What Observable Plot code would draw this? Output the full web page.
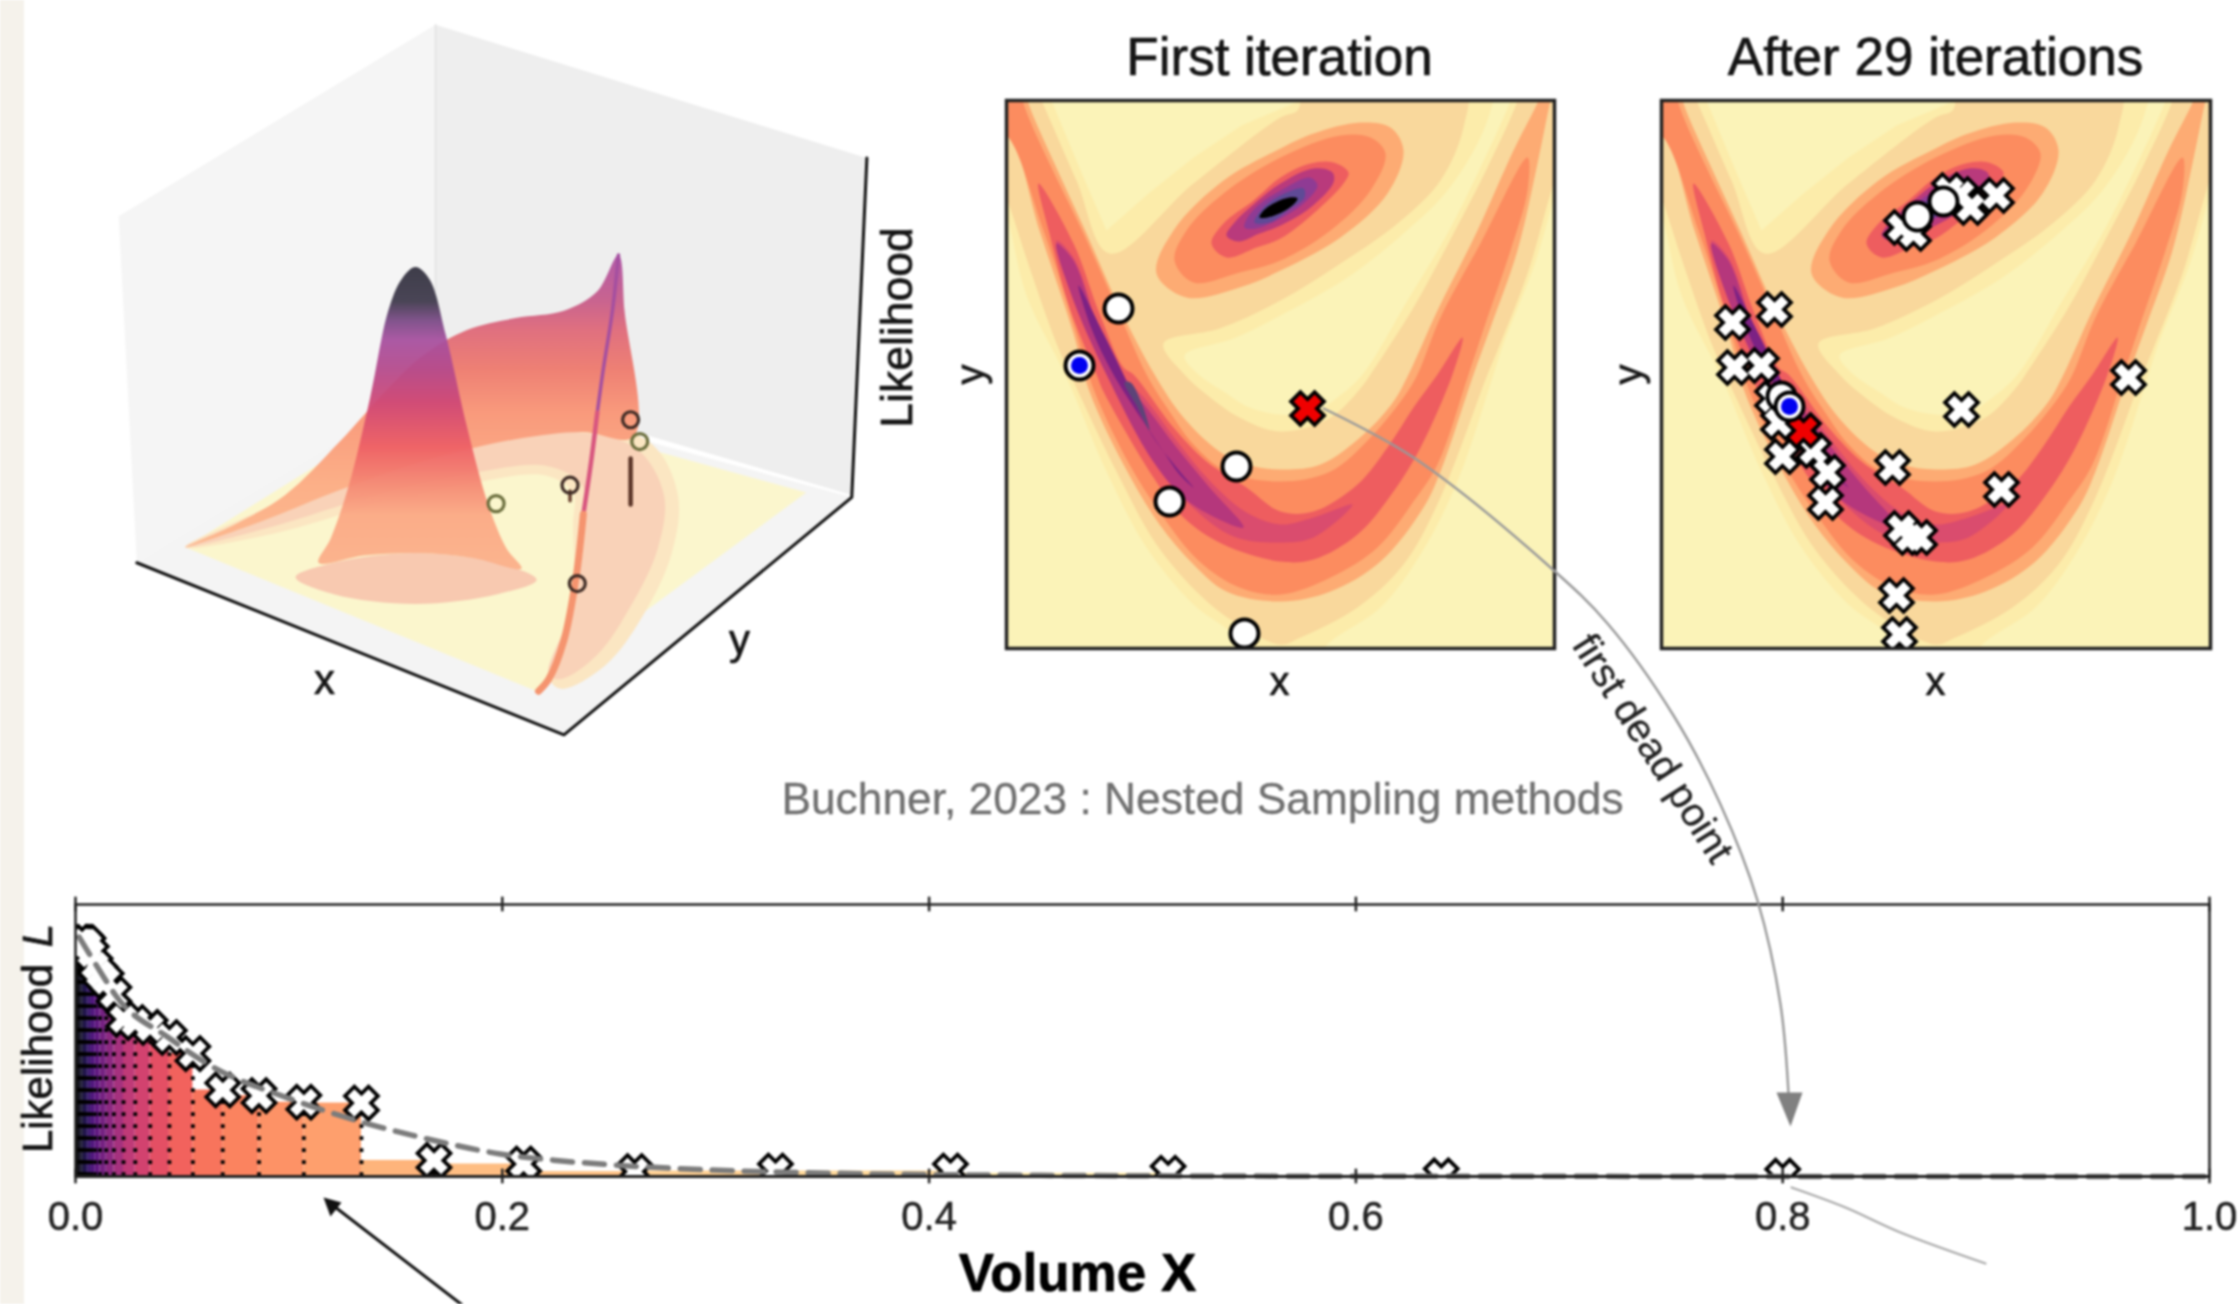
<!DOCTYPE html>
<html>
<head>
<meta charset="utf-8">
<script src="https://cdn.jsdelivr.net/npm/d3@7"></script>
<script src="https://cdn.jsdelivr.net/npm/@observablehq/plot@0.6"></script>
<style>
html,body{margin:0;padding:0;background:#fff;overflow:hidden}
#page{position:relative;width:2238px;height:1304px;overflow:hidden;filter:blur(0.9px);background:#fff}
#strip{position:absolute;left:0;top:0;width:24px;height:1304px;background:#f5f2eb}
.layer{position:absolute}
.layer svg{display:block;background:transparent;overflow:hidden}
</style>
</head>
<body>
<div id="page"><div id="strip"></div></div>
<script>
// ---------- Volume / likelihood panel ----------
const volumes = [0.8,0.64,0.512,0.41,0.328,0.262,0.21,0.168,0.134,0.107,0.086,0.069,0.055,0.044,0.035,0.028,0.0225,0.018,0.0144,0.0115,0.0092,0.0074,0.0059,0.0047,0.0038,0.003,0.0024,0.0019,0.0015];
const likelihoods = [0.001,0.002,0.012,0.02,0.02,0.018,0.046,0.059,0.27,0.273,0.297,0.318,0.452,0.511,0.548,0.566,0.578,0.67,0.72,0.745,0.775,0.82,0.85,0.86,0.86,0.86,0.86,0.86,0.86];
const shades = [0.01,0.03,0.05,0.08,0.1,0.13,0.14,0.16,0.2,0.23,0.26,0.29,0.33,0.38,0.43,0.48,0.54,0.6,0.66,0.71,0.76,0.81,0.85,0.88,0.91,0.94,0.96,0.98,1];
const curveVolume = [0.0017,0.0134,0.0184,0.0435,0.065,0.099,0.132,0.165,0.199,0.224,0.251,0.2976,0.355,0.459,0.6,0.8,1];
const curveLikelihood = [0.88,0.731,0.67,0.511,0.40,0.29,0.205,0.138,0.083,0.06,0.043,0.024,0.012,0.004,0.001,0.0003,0.0001];
const volumeTicks = [0,0.2,0.4,0.6,0.8,1];

// ---------- Contour bands of the likelihood, x/y across the square panel ----------
const yellowLeft = [[-25,40],[0,113],[20,195],[60,277],[100,371],[140,447],[187,504],[227,534],[260,575],[-25,580]];
const yellowRight = [[300,575],[321,544],[374,507],[414,454],[451,381],[487,274],[497,243],[527,167],[544,110],[560,50],[580,50],[580,575]];
const yellowWedge = [[38,-15],[45,0],[72,65],[100,130],[142,93],[187,57],[235,25],[294,0],[320,-15]];
const yellowInner = [[178,255],[227,238],[274,215],[341,177],[397,133],[441,90],[474,37],[487,0],[490,-15],[508,-15],[504,0],[474,67],[441,133],[401,200],[356,274],[331,297],[307,312],[274,314],[243,307],[217,291],[192,274]];
const tanBand = [[-15,60],[0,97],[23,167],[50,243],[67,281],[110,371],[150,444],[193,494],[227,521],[274,544],[294,537],[351,507],[397,464],[434,397],[481,274],[491,250],[521,173],[544,93],[560,40],[565,-15],[514,-15],[511,0],[481,67],[447,133],[407,207],[364,274],[357,284],[324,317],[274,331],[233,317],[200,294],[178,274],[157,243],[213,228],[274,200],[334,163],[391,123],[434,80],[457,27],[458,-15],[300,-15],[291,10],[274,17],[187,83],[103,153],[70,80],[35,0],[28,-15],[-15,-15]];
const lightOrangeBand = [[-15,-15],[-15,20],[0,25],[33,130],[67,233],[83,291],[117,364],[153,424],[187,464],[220,491],[274,501],[324,491],[374,461],[417,407],[434,371],[467,274],[484,227],[511,150],[531,63],[544,0],[548,-15],[537,-15],[532,0],[507,50],[471,130],[431,210],[402,274],[387,301],[357,334],[314,364],[274,369],[240,364],[213,351],[177,317],[148,274],[113,207],[80,133],[48,63],[22,3],[18,-15]];
const orangeBand = [[-15,-15],[-15,32],[0,35],[37,130],[70,233],[88,291],[123,364],[157,417],[193,461],[233,487],[274,494],[324,477],[371,447],[407,401],[431,364],[462,274],[481,217],[504,150],[521,90],[521,57],[474,143],[434,217],[411,274],[397,297],[364,337],[324,371],[274,381],[220,371],[187,344],[163,311],[140,274],[110,207],[77,133],[43,63],[17,3],[14,-15]];
const redBand = [[32,83],[43,133],[63,207],[90,274],[97,291],[147,377],[177,417],[217,444],[274,461],[307,459],[351,434],[387,391],[414,347],[446,274],[456,237],[431,274],[407,307],[381,347],[351,384],[307,411],[274,411],[240,387],[200,361],[167,327],[127,274],[117,267],[93,213],[67,143]];
const crimsonBand = [[50,140],[67,200],[100,274],[147,362],[183,404],[227,436],[274,442],[307,437],[346,404],[307,417],[274,424],[240,412],[203,380],[170,340],[140,300],[113,270],[93,229],[67,157]];
const magentaBand = [[50,143],[67,200],[100,274],[147,361],[183,402],[237,427],[203,387],[170,347],[140,307],[113,274],[93,233],[67,160]];
const purpleBand = [[72,185],[85,228],[107,274],[157,351],[173,374],[187,387],[170,367],[143,331],[117,274],[97,233]];
const violetBand = [[118,282],[130,305],[143,330],[136,305],[124,282]];
const ellipse1 = [[150,173],[180,197],[233,187],[274,170],[334,137],[381,93],[397,50],[384,27],[354,22],[307,33],[274,48],[217,80],[167,130]];
const ellipse2 = [[168,160],[187,182],[233,172],[274,160],[324,130],[364,90],[379,53],[364,37],[334,35],[274,57],[217,93],[180,130]];
const ellipse3 = [[205,143],[220,157],[250,147],[274,138],[307,113],[337,83],[342,72],[327,62],[304,63],[274,77],[247,100],[217,123]];
const ellipse4 = [[220,135],[232,141],[253,133],[274,125],[304,107],[327,82],[326,72],[307,68],[274,83],[247,104],[228,122]];
const ellipse5 = [[238,127],[250,128],[274,118],[297,103],[311,85],[303,77],[274,90],[254,103],[241,117]];
const ellipse6 = [[248,122],[263,122],[281,110],[298,97],[297,88],[274,95],[256,108]];
const ellipse7 = [[253,117],[261,117],[275,112],[287,104],[291,98],[283,97],[269,102],[257,110]];

// ---------- Live and dead points ----------
const firstLive = [[112,208],[230,366],[163,401],[238,533]];
const firstBlue = [[73,265]];
const firstDead = [[301,308]];
const laterDead = [[240,127],[252,133],[288,90],[299,94],[309,107],[335,95],[71,222],[113,209],[73,267],[100,265],[111,298],[117,322],[152,350],[121,356],[166,372],[164,402],[231,367],[300,309],[467,277],[340,389],[240,428],[248,437],[258,437],[235,495],[238,534]];
const laterRed = [[142,330]];
const laterLive = [[256,116],[282,101],[120,296]];
const laterBlue = [[128,306]];

// ---------- Projected 3D view ----------
const wallLeft = [[195,445],[718,50],[718,800],[225,1160]];
const wallBack = [[718,50],[1430,325],[1405,1020],[718,770]];
const floorPlane = [[225,1160],[718,790],[1405,1025],[930,1515]];
const floorYellow = [[305,1128],[720,805],[1330,1015],[885,1425]];
const floorHalo = [[305,1128],[450,1040],[620,945],[800,885],[960,870],[1075,915],[1118,1020],[1108,1140],[1060,1270],[998,1372],[925,1420],[905,1395],[930,1300],[945,1250],[945,1080],[945,1015],[900,980],[780,995],[620,1040],[450,1100]];
const floorPeach = [[305,1128],[450,1050],[620,960],[800,905],[950,890],[1050,925],[1095,1020],[1085,1130],[1040,1250],[985,1350],[925,1400],[905,1390],[945,1250],[965,1080],[960,1000],[900,960],[780,975],[620,1020],[450,1085]];
const floorEllipse = [[487,1190],[550,1160],[685,1140],[820,1160],[885,1195],[820,1225],[685,1245],[550,1225]];
const sheetBase = [[305,1128],[380,1085],[470,1020],[560,910],[640,800],[700,730],[770,680],[850,655],[930,640],[985,600],[1020,525],[1030,640],[1045,900],[960,890],[850,905],[700,950],[560,1010],[430,1075]];
const peakBase = [[525,1160],[545,1110],[575,1000],[610,820],[640,640],[662,575],[685,550],[708,575],[735,690],[770,880],[805,1040],[835,1130],[860,1172],[780,1150],[690,1140],[600,1145]];
const ridgeTop = [[1020,525],[1010,640],[995,760],[985,850]];
const ridgeMid = [[985,850],[975,950],[962,1060]];
const ridgeLow = [[962,1060],[950,1190],[930,1320],[905,1400],[888,1425]];
const axisSpine = [[225,1160],[930,1515],[1405,1025],[1430,325]];
const points3dDark = [[1040,865],[952,1203],[940,1000]];
const points3dOlive = [[1055,910],[818,1038]];
const stem1 = [[940,1012],[940,1032]];
const stem2 = [[1040,945],[1040,1040]];
const peakStops = [[0,"#33323f"],[0.113,"#3f3a4c"],[0.177,"#7a4a86"],[0.241,"#a7509f"],[0.338,"#b54a8c"],[0.45,"#cf4876"],[0.595,"#ee6065"],[0.723,"#f58a74"],[0.82,"#fba884"],[1,"#fbb08a"]];
const sheetStops = [[0,"#b25aa8"],[0.157,"#c9648f"],[0.257,"#e0707f"],[0.39,"#ee8074"],[0.54,"#f99a7c"],[0.79,"#fcb088"],[1,"#fcb88f"]];

// ---------- Annotations on the page ----------
const greyArrow = [[1323,408],[1413,457],[1550,567],[1607,623],[1673,715],[1720,804],[1757,900],[1780,1004],[1788,1093]];
const greyHead = [[1776,1092],[1802,1092],[1790,1126]];
const greyTail = [[1791,1187],[1845,1207],[1900,1232],[1985,1263]];
const blackShaft = [[461,1304],[330,1203]];
const blackHead = [[323,1197],[341,1202],[330,1216]];

const sans = "'Liberation Sans', Arial, sans-serif";
const poly = (pts, fill, curve = "catmull-rom-closed", extra = {}) =>
  Plot.line(pts, {x: d => d[0], y: d => d[1], fill, stroke: "none", curve, clip: true, ...extra});
const path = (pts, stroke, strokeWidth, extra = {}) =>
  Plot.line(pts, {x: d => d[0], y: d => d[1], stroke, strokeWidth, fill: "none", curve: "catmull-rom", ...extra});
const label = (text, x, y, fontSize, extra = {}) => {
  const fill = extra.fill || "#151515";
  return Plot.text([text], {x: () => x, y: () => y, text: d => d, fontSize, fontFamily: sans, textAnchor: "middle", stroke: fill, strokeWidth: 0.7, ...extra, fill});
};
const addPlot = (plot, left, top) => {
  const d = document.createElement("div");
  d.className = "layer";
  d.style.left = left + "px";
  d.style.top = top + "px";
  d.appendChild(plot);
  document.getElementById("page").appendChild(d);
};
const gradient = (id, stops) => () => {
  const defs = d3.create("svg:defs");
  const g = defs.append("linearGradient").attr("id", id).attr("x1", 0).attr("x2", 0).attr("y1", 0).attr("y2", 1);
  for (const [o, c] of stops) g.append("stop").attr("offset", o).attr("stop-color", c);
  return defs.node();
};
const crossMarks = (rows, fill, accX = d => d[0], accY = d => d[1], r = 6.5) => [
  Plot.dot(rows, {x: accX, y: accY, symbol: "times", r, stroke: "#000", strokeWidth: 17, strokeLinecap: "square", fill: "none", clip: true}),
  Plot.dot(rows, {x: accX, y: accY, symbol: "times", r, stroke: fill, strokeWidth: 9.5, strokeLinecap: "square", fill: "none", clip: true})
];
const liveMarks = (rows) => Plot.dot(rows, {x: d => d[0], y: d => d[1], r: 14, fill: "#fff", stroke: "#000", strokeWidth: 4, clip: true});
const blueMarks = (rows) => [
  liveMarks(rows),
  Plot.dot(rows, {x: d => d[0], y: d => d[1], r: 8.5, fill: "#0000f0", stroke: "none", clip: true})
];

// contour field used by both square panels
const contourMarks = [
  Plot.frame({fill: "#fcecaa", stroke: "none"}),
  poly(yellowLeft, "#fbf3b8"),
  poly(yellowRight, "#fbf3b8"),
  poly(yellowWedge, "#fbf3b8", "linear-closed"),
  poly(yellowInner, "#fbf3b8"),
  poly(tanBand, "#f9d89c"),
  poly(ellipse1, "#fdab73"),
  poly(ellipse2, "#fc8c5f"),
  poly(ellipse3, "#ee5d5f"),
  poly(ellipse4, "#b93a7c"),
  poly(ellipse5, "#8f3b94"),
  poly(ellipse6, "#5f4a96"),
  poly(ellipse7, "#000"),
  poly(lightOrangeBand, "#fdab73"),
  poly(orangeBand, "#fc8c5f"),
  poly(redBand, "#ee5d5f"),
  poly(crimsonBand, "#da4c6e"),
  poly(magentaBand, "#b5377c"),
  poly(purpleBand, "#7c2284"),
  poly(violetBand, "#5d4478")
];
const squarePanel = (w, marks) => Plot.plot({
  width: w + 8, height: 556, margin: 4,
  x: {domain: [0, w], axis: null},
  y: {domain: [548, 0], axis: null},
  style: {background: "transparent", fontFamily: sans},
  marks: [...contourMarks, ...marks, Plot.frame({stroke: "#222", strokeWidth: 3.5})]
});

// ---------- Bottom chart ----------
const rows = volumes.map((v, i) => ({x: v, y: likelihoods[i], x0: i + 1 < volumes.length ? volumes[i + 1] : 0, shade: shades[i]}));
const curveRows = curveVolume.map((v, i) => ({x: v, y: curveLikelihood[i]}));
const bottom = Plot.plot({
  width: 2238, height: 444,
  marginLeft: 75, marginRight: 29, marginTop: 44, marginBottom: 128,
  x: {domain: [0, 1], axis: null},
  y: {domain: [0, 1], axis: null},
  color: {type: "linear", scheme: "magma", reverse: true, domain: [0, 1]},
  style: {background: "transparent", fontFamily: sans},
  marks: [
    Plot.rectY(rows, {x1: "x0", x2: "x", y1: 0, y2: "y", fill: "shade"}),
    Plot.ruleX(rows, {x: "x", y1: 0, y2: "y", stroke: "#000", strokeWidth: 3.8, strokeDasharray: "3.8,8.2"}),
    ...crossMarks(rows, "#fff", d => d.x, d => d.y),
    Plot.line(curveRows, {x: "x", y: "y", stroke: "#7c7c7c", strokeWidth: 5.5, strokeDasharray: "20,12", curve: "monotone-x"}),
    Plot.frame({stroke: "#222", strokeWidth: 2.5}),
    Plot.ruleY([0], {stroke: "#222", strokeWidth: 3}),
    Plot.ruleX(volumeTicks, {y1: -0.027, y2: 0.027, stroke: "#222", strokeWidth: 2.5}),
    Plot.ruleX(volumeTicks, {y1: 0.973, y2: 1.027, stroke: "#222", strokeWidth: 2.5}),
    Plot.axisX(volumeTicks, {anchor: "bottom", tickSize: 0, tickPadding: 25, tickFormat: d3.format(".1f"), fontSize: 40, label: null, color: "#222", textStroke: "#222", textStrokeWidth: 0.5})
  ]
});
addPlot(bottom, 0, 860);

// ---------- 3D view ----------
const view3d = Plot.plot({
  width: 950, height: 760, margin: 0,
  x: {domain: [0, 1568], axis: null},
  y: {domain: [1568, 0], axis: null},
  style: {background: "transparent", fontFamily: sans},
  marks: [
    gradient("peakFill", peakStops),
    gradient("sheetFill", sheetStops),
    poly(wallLeft, "#f5f5f5", "linear-closed"),
    poly(wallBack, "#eeeeee", "linear-closed"),
    poly(floorPlane, "#f4f4f4", "linear-closed"),
    path([[718,50],[718,600]], "#e2e2e2", 1.5, {curve: "linear"}),
    poly(floorYellow, "#fbf6cd", "linear-closed"),
    poly(floorHalo, "#fbe6c2"),
    poly(floorPeach, "#f9d2b8"),
    poly(floorEllipse, "#f8c9b0"),
    poly(sheetBase, "url(#sheetFill)"),
    poly(peakBase, "url(#peakFill)", "catmull-rom-closed", {fillOpacity: 0.94}),
    path(ridgeTop, "#a44fa0", 3.5),
    path(ridgeMid, "#d8567f", 4.5),
    path(ridgeLow, "#f5946f", 7),
    path(axisSpine, "#111", 3, {curve: "linear"}),
    path(stem1, "#6a4030", 3.5, {curve: "linear"}),
    path(stem2, "#5c3528", 4.5, {curve: "linear"}),
    Plot.dot(points3dOlive, {x: d => d[0], y: d => d[1], r: 8, stroke: "#6a6d3c", strokeWidth: 3.2, fill: "none"}),
    Plot.dot(points3dDark, {x: d => d[0], y: d => d[1], r: 8, stroke: "#3d2a24", strokeWidth: 3.2, fill: "none"})
  ]
});
addPlot(view3d, 0, 0);

// ---------- Square panels ----------
addPlot(squarePanel(548, [
  liveMarks(firstLive),
  ...blueMarks(firstBlue),
  ...crossMarks(firstDead, "#f00000")
]), 1002, 96);
addPlot(squarePanel(549, [
  ...crossMarks(laterDead, "#fff"),
  ...crossMarks(laterRed, "#f00000"),
  liveMarks(laterLive),
  ...blueMarks(laterBlue)
]), 1657, 96);

// ---------- Texts and arrows over the whole page ----------
const overlay = Plot.plot({
  width: 2238, height: 1304, margin: 0,
  x: {domain: [0, 2238], axis: null},
  y: {domain: [1304, 0], axis: null},
  style: {background: "transparent", fontFamily: sans},
  marks: [
    path(greyArrow, "#999", 2.4),
    poly(greyHead, "#808080", "linear-closed"),
    path(greyTail, "#aaa", 2.2),
    path(blackShaft, "#111", 3, {curve: "linear"}),
    poly(blackHead, "#111", "linear-closed"),
    label("First iteration", 1279, 58, 53),
    label("After 29 iterations", 1935, 58, 53),
    label("x", 1279, 682, 40),
    label("x", 1935, 682, 40),
    label("y", 971, 374, 40, {rotate: -90}),
    label("y", 1629, 374, 40, {rotate: -90}),
    label("x", 324, 680, 42),
    label("y", 739, 640, 42),
    label("Likelihood", 897, 327, 44.5, {rotate: -90}),
    label("Buchner, 2023 : Nested Sampling methods", 1202, 799, 44.3, {fill: "#707070", strokeWidth: 0.3}),
    label("first dead point", 1652, 748, 40, {rotate: 57.4, fill: "#222", strokeWidth: 0.3}),
    label("Likelihood", 38, 1058, 42, {rotate: -90}),
    label("L", 38, 935, 42, {rotate: -90, fontStyle: "italic"}),
    label("Volume X", 1077, 1274, 53, {fontWeight: "bold", fill: "#000"})
  ]
});
addPlot(overlay, 0, 0);
</script>
</body>
</html>
